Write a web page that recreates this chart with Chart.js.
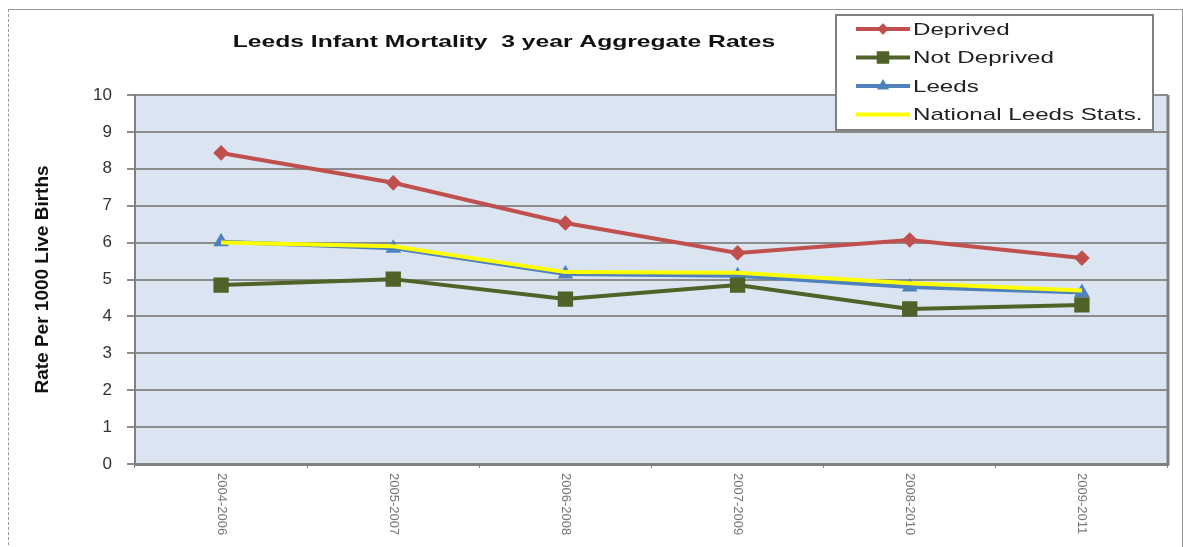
<!DOCTYPE html>
<html lang="en">
<head>
    <meta charset="UTF-8">
    <title>Leeds Infant Mortality 3 year Aggregate Rates</title>
    <script src="https://cdn.jsdelivr.net/npm/chart.js"></script>
    <style>
        html, body { margin: 0; padding: 0; background: #fff; }
        .wrap { position: relative; width: 1183px; height: 547px; }
        .frame {
            position: absolute; left: 8px; top: 9px; width: 1173px; height: 545px;
            border-top: 1px solid #999; border-left: 1px dashed #999; border-right: 1px solid #999;
            pointer-events: none;
        }
        canvas { position: absolute; left: 0; top: 0; }
    </style>
</head>
<body>
<div class="wrap">
    <canvas id="chart" width="1183" height="547"></canvas>
    <div class="frame"></div>
</div>
<script>
    // periods (3 year aggregates)
    const periods = ['2004-2006', '2005-2007', '2006-2008', '2007-2009', '2008-2010', '2009-2011'];

    // rates per 1000 live births
    const deprived    = [8.43, 7.62, 6.53, 5.72, 6.07, 5.58];
    const notDeprived = [4.85, 5.01, 4.47, 4.85, 4.20, 4.31];
    const leeds       = [6.02, 5.85, 5.15, 5.10, 4.80, 4.65];
    const national    = [6.00, 5.90, 5.20, 5.18, 4.90, 4.70];

    const yTicks = [0, 1, 2, 3, 4, 5, 6, 7, 8, 9, 10];

    const chartTitle = 'Leeds Infant Mortality  3 year Aggregate Rates';
    const FONT = '"Liberation Sans", Arial, sans-serif';

    // the source picture is stretched sideways, so text is widened with scaleX
    function wideText(ctx, text, x, y, sx) {
        ctx.save();
        ctx.translate(x, y);
        ctx.scale(sx, 1);
        ctx.fillText(text, 0, 0);
        ctx.restore();
    }

    // plot background, right frame, title and rotated category labels
    const plotFrame = {
        id: 'plotFrame',
        beforeDraw(chart) {
            const a = chart.chartArea, ctx = chart.ctx;
            ctx.save();
            ctx.fillStyle = '#dbe5f1';
            ctx.fillRect(a.left, a.top, a.right - a.left, a.bottom - a.top);
            ctx.restore();
        },
        beforeDatasetsDraw(chart) {
            const a = chart.chartArea, ctx = chart.ctx;
            ctx.save();
            ctx.strokeStyle = '#808080';
            ctx.lineWidth = 3;
            ctx.beginPath();
            ctx.moveTo(a.right, a.top);
            ctx.lineTo(a.right, a.bottom + 1);
            ctx.stroke();
            ctx.restore();
        },
        afterDraw(chart) {
            const ctx = chart.ctx, xs = chart.scales.x;
            ctx.save();
            ctx.fillStyle = '#111';
            ctx.font = 'bold 17px ' + FONT;
            ctx.textAlign = 'center';
            ctx.textBaseline = 'middle';
            wideText(ctx, chartTitle, 504, 42, 1.45);

            ctx.fillStyle = '#777';
            ctx.font = '13px ' + FONT;
            ctx.textAlign = 'left';
            periods.forEach((p, i) => {
                ctx.save();
                ctx.translate(xs.getPixelForValue(i), 473);
                ctx.rotate(Math.PI / 2);
                ctx.fillText(p, 0, 0);
                ctx.restore();
            });
            ctx.restore();
        }
    };

    // boxed legend sitting over the top right of the plot
    const boxLegend = {
        id: 'boxLegend',
        afterDraw(chart) {
            const ctx = chart.ctx;
            const x = 836, y = 15, w = 317, h = 115;
            ctx.save();
            ctx.fillStyle = '#fff';
            ctx.fillRect(x, y, w, h);
            ctx.strokeStyle = '#808080';
            ctx.lineWidth = 2;
            ctx.strokeRect(x, y, w, h);
            ctx.font = '17px ' + FONT;
            ctx.textBaseline = 'middle';
            ctx.textAlign = 'left';
            chart.data.datasets.forEach((ds, i) => {
                const cy = 29 + i * 28.5;
                ctx.strokeStyle = ds.borderColor;
                ctx.lineWidth = 4;
                ctx.beginPath();
                ctx.moveTo(856, cy);
                ctx.lineTo(910, cy);
                ctx.stroke();
                if (ds.pointRadius > 0) {
                    Chart.helpers.drawPoint(ctx, {
                        pointStyle: ds.pointStyle,
                        radius: ds.pointRadius - 2,
                        borderWidth: 1
                    }, 883, cy);
                    ctx.fillStyle = ds.borderColor;
                    ctx.fill();
                }
                ctx.fillStyle = '#222';
                wideText(ctx, ds.label, 913, cy + 1, 1.42);
            });
            ctx.restore();
        }
    };

    new Chart(document.getElementById('chart'), {
        type: 'line',
        data: {
            labels: periods,
            datasets: [
                {
                    label: 'Deprived',
                    data: deprived,
                    borderColor: '#c0504d',
                    backgroundColor: '#c0504d',
                    borderWidth: 4,
                    pointStyle: 'rectRot',
                    pointRadius: 5,
                    order: 1
                },
                {
                    label: 'Not Deprived',
                    data: notDeprived,
                    borderColor: '#4f6228',
                    backgroundColor: '#4f6228',
                    borderWidth: 4,
                    pointStyle: 'rect',
                    pointRadius: 8,
                    order: 2
                },
                {
                    label: 'Leeds',
                    data: leeds,
                    borderColor: '#4f81bd',
                    backgroundColor: '#4f81bd',
                    borderWidth: 4,
                    pointStyle: 'triangle',
                    pointRadius: 5,
                    order: 3
                },
                {
                    label: 'National Leeds Stats.',
                    data: national,
                    borderColor: '#ffff00',
                    backgroundColor: '#ffff00',
                    borderWidth: 4,
                    pointRadius: 0,
                    order: 0
                }
            ]
        },
        options: {
            responsive: false,
            animation: false,
            layout: { padding: { left: 31, right: 15, top: 95, bottom: 0 } },
            plugins: {
                legend: { display: false },
                tooltip: { enabled: false },
                title: { display: false }
            },
            scales: {
                x: {
                    offset: true,
                    grid: { display: true, drawOnChartArea: false, offset: true, tickLength: 4, color: '#808080' },
                    border: { color: '#808080', width: 3 },
                    ticks: { display: false },
                    afterFit(scale) { scale.height = 83; }
                },
                y: {
                    min: 0,
                    max: 10,
                    afterBuildTicks(scale) { scale.ticks = yTicks.map(v => ({ value: v })); },
                    grid: { color: '#8c8c8c', lineWidth: 2, tickLength: 8 },
                    border: { color: '#808080', width: 2 },
                    ticks: {
                        padding: 15,
                        color: '#333',
                        font: { family: FONT, size: 17 }
                    },
                    title: {
                        display: true,
                        text: 'Rate Per 1000 Live Births',
                        color: '#111',
                        font: { family: FONT, size: 19, weight: 'bold' },
                        padding: { top: 0, bottom: 0 }
                    },
                    afterFit(scale) { scale.width = 104; }
                }
            }
        },
        plugins: [plotFrame, boxLegend]
    });
</script>
</body>
</html>
